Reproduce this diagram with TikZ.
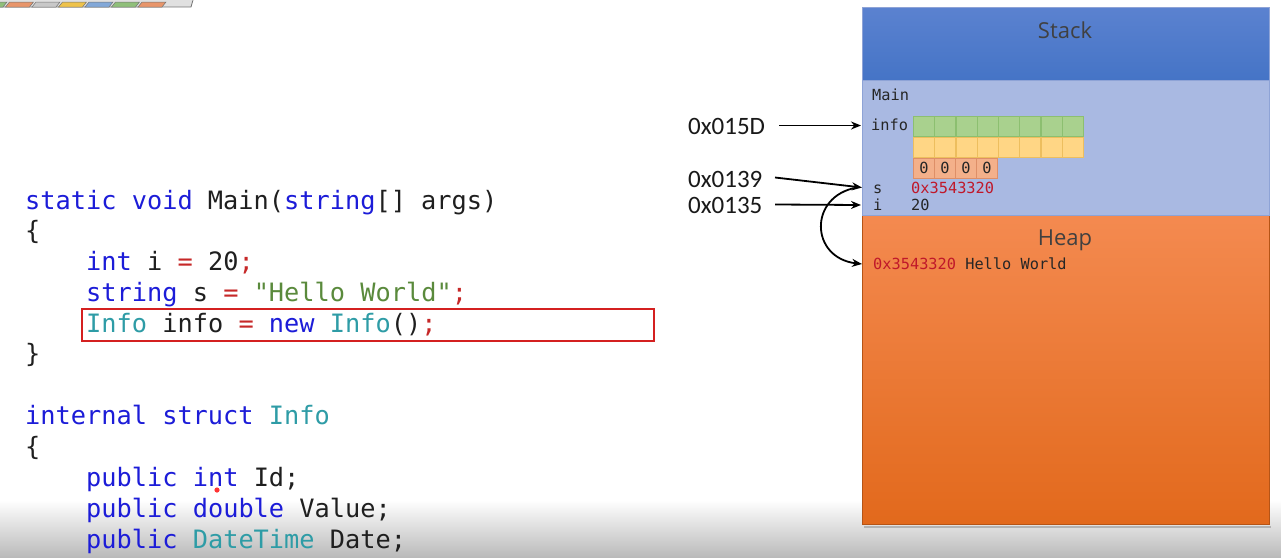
\documentclass[tikz,border=0pt]{standalone}
\usepackage{fontspec}
\setmonofont{DejaVu Sans Mono}
\newfontfamily\labfont{Carlito}
\newfontfamily\titlefont{Open Sans}
\usetikzlibrary{arrows.meta}
\definecolor{kwc}{HTML}{1C1CD8}
\definecolor{tyc}{HTML}{2E9CA6}
\definecolor{stc}{HTML}{5A8A3C}
\definecolor{rdc}{HTML}{C62828}
\definecolor{stacktop}{HTML}{5B82D0}
\definecolor{stackbot}{HTML}{4574C6}
\definecolor{framefill}{HTML}{A9B9E2}
\definecolor{frameedge}{HTML}{8EA3D6}
\definecolor{heaptop}{HTML}{F48A50}
\definecolor{heapbot}{HTML}{E2691C}
\definecolor{greenfill}{HTML}{A9D18E}
\definecolor{greenedge}{HTML}{8CBF70}
\definecolor{yelfill}{HTML}{FFD685}
\definecolor{yeledge}{HTML}{EDBE5E}
\definecolor{pinkfill}{HTML}{F4B08A}
\definecolor{pinkedge}{HTML}{DE8F68}
\definecolor{addrred}{HTML}{C0182A}
\definecolor{boxred}{HTML}{D42020}
\definecolor{tgreen}{HTML}{8FBF7A}
\definecolor{torange}{HTML}{E8956A}
\definecolor{tgrey}{HTML}{C8C8C8}
\definecolor{tyellow}{HTML}{EEC24A}
\definecolor{tblue}{HTML}{82A8D8}
\newcommand{\kw}[1]{\textcolor{kwc}{#1}}
\newcommand{\ty}[1]{\textcolor{tyc}{#1}}
\newcommand{\st}[1]{\textcolor{stc}{#1}}
\newcommand{\rd}[1]{\textcolor{rdc}{#1}}
\tikzset{
  code/.style={anchor=base west, inner sep=0pt, font=\ttfamily\fontsize{25.3}{30}\selectfont, text=black!88},
  small/.style={anchor=base west, inner sep=0pt, font=\ttfamily\fontsize{15.3}{18}\selectfont, text=black!85},
  lab/.style={anchor=base west, inner sep=0pt, font=\labfont\fontsize{25}{30}\selectfont, text=black!90},
  title/.style={inner sep=0pt, font=\titlefont\fontsize{22}{26}\selectfont, text=black!75},
  cell/.style={draw, line width=0.8pt, minimum width=21.2pt, minimum height=20.5pt, inner sep=0pt, anchor=north west},
  gcell/.style={cell, fill=greenfill, draw=greenedge},
  ycell/.style={cell, fill=yelfill, draw=yeledge},
  pcell/.style={cell, fill=pinkfill, draw=pinkedge, minimum width=21pt, font=\ttfamily\fontsize{15.3}{18}\selectfont, text=black!85},
  ptr/.style={line width=1.8pt, -{Stealth[length=10pt,width=8pt]}},
  tool/.style={line width=0.5pt, draw=black!55}
}
\begin{document}
\begin{tikzpicture}[x=1pt,y=-1pt]
\useasboundingbox (0,0) rectangle (1281,557);
\fill[white] (0,0) rectangle (1281,557);
% bottom grey fade
\shade[top color=white, bottom color=black!27] (0,500) rectangle (1281,557);

% toolbar fragment top-left
\fill[black!12] (0,0) rectangle (192,7);
\draw[black!55, line width=0.8pt] (0,7) -- (191,7) -- (193,0);
\foreach \c [count=\k from 0] in {tgreen, torange, tgrey, tyellow, tblue, tgreen, torange} {
  \filldraw[tool, fill=\c] (-17+26.5*\k,2) -- (7+26.5*\k,2) -- (3+26.5*\k,7) -- (-21+26.5*\k,7) -- cycle;
}

% code
\node[code] (l1) at (25,209) {\kw{static} \kw{void} Main(\kw{string}[] args)};
\node[code] (l2) at (25,239) {\{};
\node[code] (l3) at (86,270) {\kw{int} i \rd{=} 20\rd{;}};
\node[code] (l4) at (86,301) {\kw{string} s \rd{=} \st{"Hello World"}\rd{;}};
\node[code] (l5) at (86,332) {\ty{Info} info \rd{=} \kw{new} \ty{Info}()\rd{;}};
\node[code] (l6) at (25,362) {\}};
\node[code] (l7) at (25,424) {\kw{internal} \kw{struct} \ty{Info}};
\node[code] (l8) at (25,455) {\{};
\node[code] (l9) at (86,486) {\kw{public} \kw{int} Id;};
\node[code] (l10) at (86,517) {\kw{public} \kw{double} Value;};
\node[code] (l11) at (86,548) {\kw{public} \ty{DateTime} Date;};
\draw[boxred, line width=1.6pt] (82,309) rectangle (654,341);
\fill[red!80] (217,490) circle (2.6);

% stack / heap
\fill[black!30] (864,526) rectangle (1271,528);
\shade[top color=heaptop, bottom color=heapbot] (862,215) rectangle (1269,524);
\draw[heapbot!80!black, line width=0.6pt] (862,215) rectangle (1269,524);
\shade[top color=stacktop, bottom color=stackbot] (862,7) rectangle (1269,80);
\fill[framefill] (862,80) rectangle (1269,215);
\draw[frameedge, line width=1pt] (862,7) rectangle (1269,215);
\draw[frameedge, line width=1pt] (862,80) -- (1269,80);
\node[title] (stack) at (1065,30) {Stack};
\node[title] (heap) at (1065,240) {Heap};

\node[small] (mainlbl) at (872,100) {Main};
\node[small] (infolbl) at (871,130) {info};
\foreach \k in {1,...,8} {
  \node[gcell] (g\k) at (913+21.25*\k-21.25,115.5) {};
  \node[ycell] (y\k) at (913+21.25*\k-21.25,136.5) {};
}
\foreach \k in {1,...,4} {
  \node[pcell] (p\k) at (913+21*\k-21,157.5) {0};
}
\node[small] (slbl) at (873,193) {s};
\node[small, text=addrred] (sval) at (911,193) {0x3543320};
\node[small] (ilbl) at (873,210) {i};
\node[small] (ival) at (911,210) {20};
\node[small] (hentry) at (873,269) {\textcolor{addrred}{0x3543320} Hello World};

% address labels and pointers
\node[lab] (a1) at (688,134) {0x015D};
\node[lab] (a2) at (688,187) {0x0139};
\node[lab] (a3) at (688,213) {0x0135};
\coordinate (tinfo) at (861,125.5);
\coordinate (ts) at (862,187.5);
\coordinate (ti) at (861,205);
\coordinate (theap) at (862,264);
\draw[ptr] (779,125.5) -- (tinfo);
\draw[ptr] (775,177.5) -- (ts);
\draw[ptr] (775,204.5) -- (ti);
\draw[ptr] (857,187.5) .. controls (808,196) and (810,258) .. (theap);
\end{tikzpicture}
\end{document}
